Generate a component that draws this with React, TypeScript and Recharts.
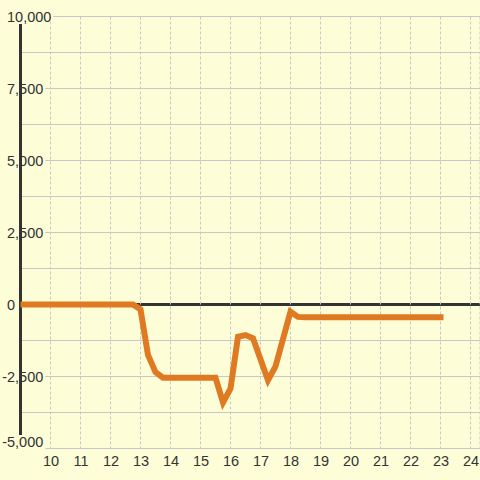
import React from 'react';
import { LineChart, Line, XAxis, YAxis, CartesianGrid } from 'recharts';

const hours = [
  9, 9.25, 9.5, 9.75, 10, 10.25, 10.5, 10.75, 11, 11.25, 11.5, 11.75, 12, 12.25, 12.5, 12.75,
  13, 13.25, 13.5, 13.75, 14, 14.25, 14.5, 14.75, 15, 15.25, 15.5, 15.75,
  16, 16.25, 16.5, 16.75, 17, 17.25, 17.5, 17.75, 18, 18.25, 18.5, 18.75,
  19, 19.25, 19.5, 19.75, 20, 20.25, 20.5, 20.75, 21, 21.25, 21.5, 21.75, 22, 22.25, 22.5, 22.75, 23,
];
const values = [
  0, 0, 0, 0, 0, 0, 0, 0, 0, 0, 0, 0, 0, 0, 0, 0,
  -170, -1750, -2350, -2540, -2540, -2540, -2540, -2540, -2540, -2540, -2540, -3400,
  -2920, -1120, -1060, -1170, -1900, -2630, -2150, -1200, -250, -430, -440, -440,
  -440, -440, -440, -440, -440, -440, -440, -440, -440, -440, -440, -440, -440, -440, -440, -440, -440,
];
const xTicks = [10, 11, 12, 13, 14, 15, 16, 17, 18, 19, 20, 21, 22, 23, 24];
const yTicks = [-5000, -3750, -2500, -1250, 0, 1250, 2500, 3750, 5000, 6250, 7500, 8750, 10000];
const yLabelStep = 2500;

const data = hours.map((h, i) => ({ h, v: values[i] }));

const BG = '#fdfdd8';
const GRID = '#c8c8c8';
const DARK = '#333333';
const ORANGE = '#e07a22';
const FONT = '"Liberation Sans", Arial, sans-serif';
const FS = 14.5;
const TOP = 16.5;
const BOTTOM = 448.5;
const LEFT = 20.5;

const fmt = (v: number) => v.toLocaleString('en-US');
const labelWidth = (s: string) =>
  s.split('').reduce((w, c) => w + (c === ',' ? 0.278 : c === '-' ? 0 : 0.556) * FS, 0);

const valueAt = (y: number) =>
  Math.round((yTicks[yTicks.length - 1] - ((y - TOP) / (BOTTOM - TOP)) * (yTicks[yTicks.length - 1] - yTicks[0])));

const HLine = (p: any) => {
  const { y1, x1, x2 } = p;
  const v = valueAt(y1);
  if (v === 0) {
    return (
      <g key={`h-${y1}`}>
        <line x1={x1} x2={x2} y1={y1} y2={y1} stroke={DARK} strokeWidth={3} />
      </g>
    );
  }
  let start = x1;
  if (Math.abs(v) % yLabelStep === 0) {
    start = 7 + labelWidth(fmt(Math.abs(v))) + 2;
  }
  return <line key={`h-${y1}`} x1={start} x2={x2} y1={y1} y2={y1} stroke={GRID} strokeWidth={1} />;
};

const VLine = (p: any) => {
  const { x1, y1, y2 } = p;
  if (x1 < LEFT + 5) {
    return (
      <line key={`v-${x1}`} x1={x1} x2={x1} y1={TOP + 7.5} y2={BOTTOM - 13.5} stroke={DARK} strokeWidth={3} />
    );
  }
  return (
    <line key={`v-${x1}`} x1={x1} x2={x1} y1={y1} y2={y2} stroke={GRID} strokeWidth={1} strokeDasharray="3 2" />
  );
};

const YTick = (p: any) => {
  const { y, payload } = p;
  const v = payload.value as number;
  if (Math.abs(v) % yLabelStep !== 0) return <g />;
  const neg = v < 0;
  const x = neg ? 7 - 0.333 * FS : 7;
  const by = v === yTicks[0] ? y - 2 : y + 5.4;
  return (
    <text x={x} y={by} fill={DARK} fontSize={FS} fontFamily={FONT} textAnchor="start">
      {fmt(v)}
    </text>
  );
};

const XTick = (p: any) => {
  const { x, payload } = p;
  return (
    <text x={x + 0.5} y={466} fill={DARK} fontSize={FS} fontFamily={FONT} textAnchor="middle">
      {payload.value}
    </text>
  );
};

const AxisLeftLine = (p: any) => {
  const { x, y, height } = p;
  return null;
};

export default function App() {
  return (
    <div style={{ position: 'absolute', left: 0, top: 0, width: 480, height: 480, background: BG }}>
      <LineChart
        width={480}
        height={480}
        data={data}
        margin={{ top: TOP, right: 0, bottom: 0, left: 0 }}
      >
        <CartesianGrid horizontal={HLine} vertical={VLine} stroke={GRID} />
        <XAxis
          dataKey="h"
          type="number"
          domain={[9, 9 + 459.5 / 30]}
          ticks={xTicks}
          axisLine={false}
          tickLine={false}
          height={480 - BOTTOM}
          tick={<XTick />}
          interval={0}
          allowDataOverflow
        />
        <YAxis
          type="number"
          domain={[yTicks[0], yTicks[yTicks.length - 1]]}
          ticks={yTicks}
          width={LEFT}
          axisLine={false}
          tickLine={false}
          tick={<YTick />}
          interval={0}
        />
        <Line
          type="linear"
          dataKey="v"
          stroke={ORANGE}
          strokeWidth={6}
          strokeLinecap="square"
          dot={false}
          activeDot={false}
          isAnimationActive={false}
        />
      </LineChart>
    </div>
  );
}
